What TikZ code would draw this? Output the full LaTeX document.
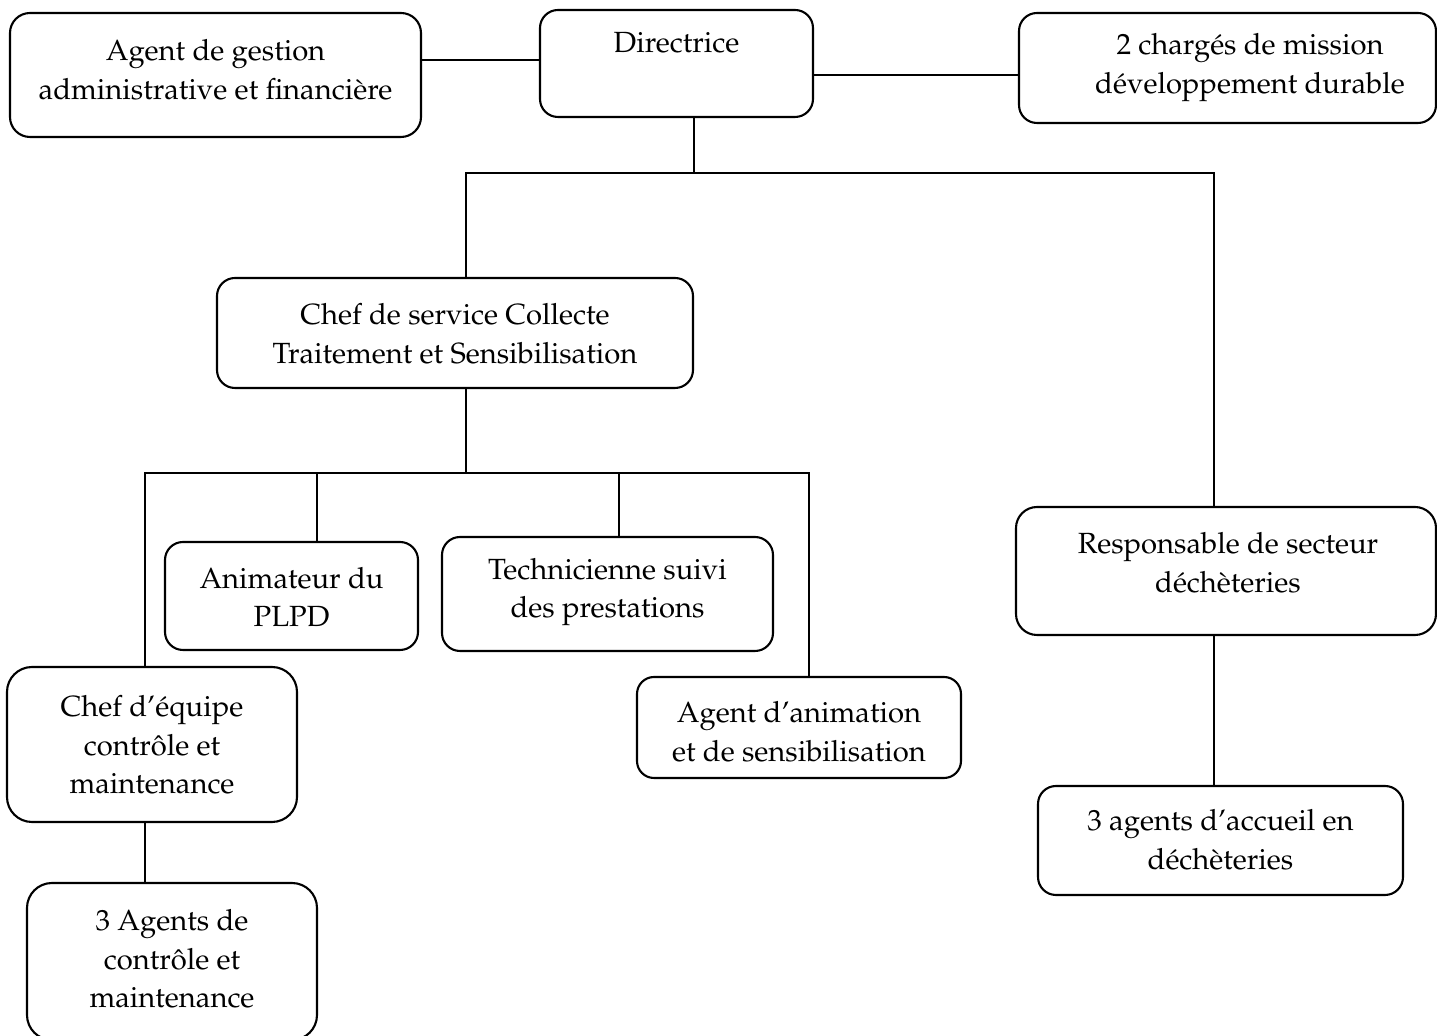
\documentclass[tikz,border=0pt]{standalone}
\usepackage[T1]{fontenc}
\usepackage{mathpazo}
\usetikzlibrary{fit}
\tikzset{
  every node/.style = {font = \fontsize{14.6pt}{19.3pt}\selectfont}
}
\tikzset{
  orgbox/.style = {draw, line width=1.05pt, rounded corners=9pt, inner sep=0pt},
  orgtext/.style = {align=center, inner sep=0pt},
  link/.style = {line width=0.9pt}
}

\begin{document}
\begin{tikzpicture}[x=0.5pt, y=-0.5pt]
\path[use as bounding box, clip] (0,0) rectangle (1437,1036);

% Boxes (corners in pixels, y downwards)
\node[orgbox, fit={(10,13) (421,137)}, rounded corners=10pt] (agent) {};
\node[orgbox, fit={(540,10) (813,117)}] (dir) {};
\node[orgbox, fit={(1019,13) (1436,123)}] (charges) {};
\node[orgbox, fit={(217,278) (693,388)}] (serv) {};
\node[orgbox, fit={(165,542) (418,650)}] (anim) {};
\node[orgbox, fit={(442,537) (773,651)}] (tech) {};
\node[orgbox, fit={(637,677) (961,778)}, rounded corners=8.5pt] (agan) {};
\node[orgbox, fit={(1016,507) (1436,635)}, rounded corners=10.5pt] (resp) {};
\node[orgbox, fit={(7,667) (297,822)}, rounded corners=12.5pt] (cheq) {};
\node[orgbox, fit={(27,883) (317,1040)}, rounded corners=12.5pt] (agco) {};
\node[orgbox, fit={(1038,786) (1403,895)}] (acc) {};

% Texts
\node[orgtext] (agent-t) at (215.5,70) {Agent de gestion\\administrative et financière};
\node[orgtext] (dir-t) at (676.5,43) {Directrice};
\node[orgtext] (charges-t) at (1250,67.5) {2 chargés de mission\\développement durable};
\node[orgtext] (serv-t) at (455,334) {Chef de service Collecte\\Traitement et Sensibilisation};
\node[orgtext] (anim-t) at (291.5,597) {Animateur du\\PLPD};
\node[orgtext] (tech-t) at (607.5,592) {Technicienne suivi\\des prestations};
\node[orgtext] (agan-t) at (799,732) {Agent d'animation\\et de sensibilisation};
\node[orgtext] (resp-t) at (1228,563) {Responsable de secteur\\déchèteries};
\node[orgtext] (cheq-t) at (152,745) {Chef d'équipe\\contrôle et\\maintenance};
\node[orgtext] (agco-t) at (172,959) {3 Agents de\\contrôle et\\maintenance};
\node[orgtext] (acc-t) at (1220.5,840) {3 agents d'accueil en\\déchèteries};

% Bus lines
\coordinate (linkL) at (480,60);
\coordinate (linkR) at (916,75);
\coordinate (bus1) at (694,173);
\coordinate (bus1L) at (466,173);
\coordinate (bus1R) at (1214,173);
\coordinate (bus2) at (466,473);
\coordinate (bus2L) at (145,473);
\coordinate (bus2R) at (809,473);

% Connectors
\draw[link] (agent.east |- linkL) -- (dir.west |- linkL);
\draw[link] (dir.east |- linkR) -- (charges.west |- linkR);
\draw[link] (dir.south -| bus1) -- (bus1);
\draw[link] (serv.north -| bus1L) -- (bus1L) -- (bus1R) -- (resp.north -| bus1R);
\draw[link] (serv.south -| bus2) -- (bus2);
\draw[link] (cheq.north -| bus2L) -- (bus2L) -- (bus2R) -- (agan.north -| bus2R);
\foreach \n/\x in {anim/317, tech/619}
  \draw[link] (\n.north -| \x,0) -- (bus2 -| \x,0);
\draw[link] (cheq.south -| bus2L) -- (agco.north -| bus2L);
\draw[link] (resp.south -| bus1R) -- (acc.north -| bus1R);
\end{tikzpicture}
\end{document}
